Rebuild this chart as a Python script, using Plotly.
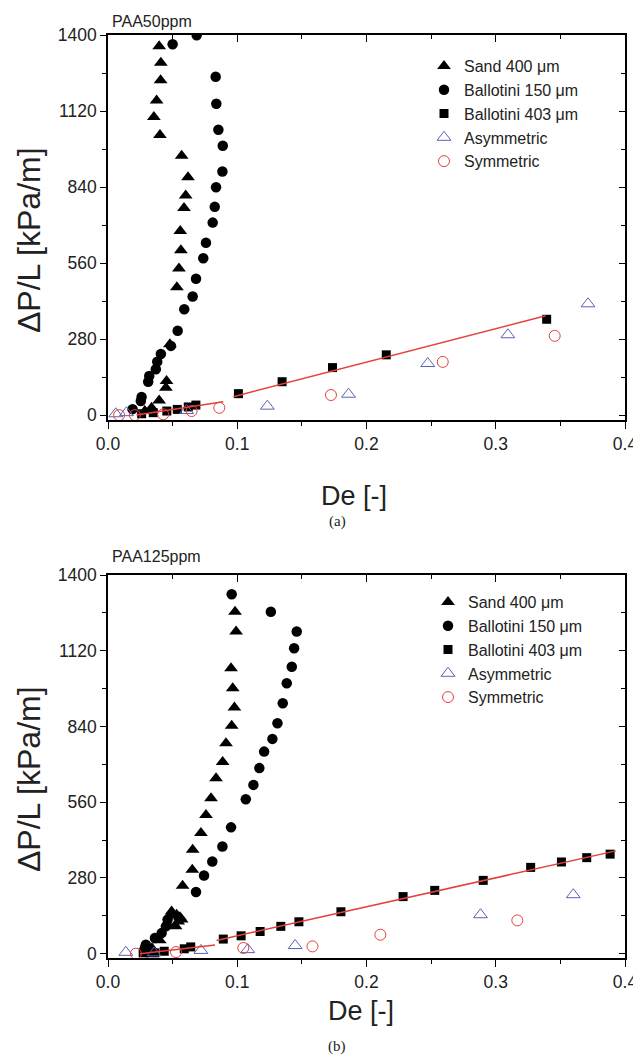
import plotly.graph_objects as go

# page body has an 8px margin: figure coordinates are offset from the window
OX, OY = 8, 8
W, H = 633, 1056
FONT = "Liberation Sans, Arial, sans-serif"

# ---------------- Panel (a): PAA 50 ppm ----------------
sand_a_x = [0.0396, 0.0409, 0.0407, 0.0376, 0.0355, 0.0402, 0.0570, 0.0619, 0.0601, 0.0588,
            0.0559, 0.0564, 0.0549, 0.0533, 0.0479, 0.0453, 0.0448, 0.0396, 0.0337, 0.0285]
sand_a_y = [1359, 1298, 1233, 1159, 1098, 1032, 955, 876, 809, 763,
            678, 607, 540, 471, 261, 126, 101, 54, 27, 15]

b150_a_x = [0.0686, 0.0500, 0.0833, 0.0838, 0.0854, 0.0888, 0.0885, 0.0836, 0.0826, 0.0810,
            0.0758, 0.0737, 0.0681, 0.0655, 0.0590, 0.0539, 0.0487, 0.0409, 0.0381, 0.0370,
            0.0319, 0.0311, 0.0260, 0.0254, 0.0190]
b150_a_y = [1399, 1366, 1246, 1147, 1051, 992, 897, 839, 767, 709,
            635, 578, 502, 437, 390, 311, 255, 225, 197, 169,
            144, 123, 67, 52, 22]

b403_a_x = [0.026, 0.035, 0.0455, 0.0536, 0.0621, 0.068, 0.1009, 0.1347, 0.1737, 0.2153, 0.3394]
b403_a_y = [5, 9, 15, 21, 30, 37, 79, 123, 175, 222, 353]

asym_a_x = [0.006, 0.0143, 0.0608, 0.1233, 0.1861, 0.2474, 0.3094, 0.3714]
asym_a_y = [5, 9, 17, 33, 77, 190, 296, 410]

sym_a_x = [0.0086, 0.0208, 0.0427, 0.0647, 0.0861, 0.1725, 0.259, 0.3456]
sym_a_y = [0, 0, 3, 15, 27, 74, 196, 292]

fit1_a_x = [0.022, 0.0892]
fit1_a_y = [0, 49]
fit2_a_x = [0.097, 0.3386]
fit2_a_y = [68, 366]

# ---------------- Panel (b): PAA 125 ppm ----------------
sand_b_x = [0.0983, 0.0991, 0.0952, 0.0965, 0.0978, 0.0957, 0.0913, 0.0887, 0.0836, 0.0797,
            0.0758, 0.0719, 0.0655, 0.0652, 0.0577, 0.0570, 0.0557, 0.0543, 0.0531, 0.0523,
            0.0492, 0.0480, 0.0460, 0.0400, 0.0340]
sand_b_y = [1264, 1191, 1055, 981, 910, 843, 778, 709, 649, 575,
            513, 446, 384, 310, 251, 126, 135, 119, 144, 101,
            156, 140, 110, 50, 20]

b150_b_x = [0.0957, 0.126, 0.146, 0.144, 0.1422, 0.1383, 0.1352, 0.1311, 0.1272, 0.1208,
            0.1171, 0.1125, 0.1066, 0.0952, 0.0885, 0.0807, 0.0743, 0.0681, 0.0461, 0.0448,
            0.0415, 0.0363, 0.0293, 0.0285, 0.0311]
b150_b_y = [1329, 1264, 1191, 1129, 1061, 1000, 926, 852, 794, 747,
            686, 624, 571, 467, 396, 341, 289, 228, 126, 101,
            76, 58, 33, 21, 5]

b403_b_x = [0.0272, 0.0363, 0.0435, 0.059, 0.064, 0.0892, 0.103, 0.1177, 0.1337, 0.1477,
            0.1802, 0.2283, 0.2528, 0.2903, 0.327, 0.3508, 0.3704, 0.3885]
b403_b_y = [3, 3, 9, 18, 25, 54, 66, 82, 101, 118,
            155, 211, 234, 271, 319, 339, 355, 368]

asym_b_x = [0.0138, 0.0357, 0.0719, 0.1081, 0.1448, 0.2882, 0.36]
asym_b_y = [5, 3, 12, 15, 30, 144, 218]

sym_b_x = [0.0216, 0.0526, 0.1047, 0.1582, 0.2107, 0.3167]
sym_b_y = [0, 6, 21, 27, 70, 123]

fit1_b_x = [0.0247, 0.0828]
fit1_b_y = [0, 32]
fit2_b_x = [0.084, 0.3929]
fit2_b_y = [49, 380]

names = ["Sand 400 \u03bcm", "Ballotini 150 \u03bcm", "Ballotini 403 \u03bcm", "Asymmetric", "Symmetric"]
y_ticks = [0, 280, 560, 840, 1120, 1400]
panel_titles = ["PAA50ppm", "PAA125ppm"]
captions = ["(a)", "(b)"]

BLUE = "#5a62b4"
RED = "#e5413b"


def px(rx):
    return (rx - OX) / W


def py(ry):
    return 1 - (ry - OY) / H


fig = go.Figure()


def add_panel(xa, ya, leg, sand, b150, b403, asym, sym, fits):
    styles = [
        dict(symbol="triangle-up", size=12, color="black"),
        dict(symbol="circle", size=10.5, color="black"),
        dict(symbol="square", size=9, color="black"),
        dict(symbol="triangle-up-open", size=12, color=BLUE, line=dict(color=BLUE, width=1)),
        dict(symbol="circle-open", size=11, color=RED, line=dict(color=RED, width=1)),
    ]
    for (x, y), nm, st in zip([sand, b150, b403, asym, sym], names, styles):
        fig.add_trace(go.Scatter(x=x, y=y, mode="markers", name=nm, marker=st,
                                 xaxis=xa, yaxis=ya, legend=leg))
    for fx, fy in fits:
        fig.add_trace(go.Scatter(x=fx, y=fy, mode="lines", line=dict(color=RED, width=1.5),
                                 xaxis=xa, yaxis=ya, showlegend=False, hoverinfo="skip"))


add_panel("x", "y", "legend",
          (sand_a_x, sand_a_y), (b150_a_x, b150_a_y), (b403_a_x, b403_a_y),
          (asym_a_x, asym_a_y), (sym_a_x, sym_a_y),
          [(fit1_a_x, fit1_a_y), (fit2_a_x, fit2_a_y)])
add_panel("x2", "y2", "legend2",
          (sand_b_x, sand_b_y), (b150_b_x, b150_b_y), (b403_b_x, b403_b_y),
          (asym_b_x, asym_b_y), (sym_b_x, sym_b_y),
          [(fit1_b_x, fit1_b_y), (fit2_b_x, fit2_b_y)])

xdom = [px(108), px(625)]
ydom_a = [py(420), py(35)]
ydom_b = [py(958), py(575)]

tickfont = dict(family=FONT, size=17.5, color="#222")
minor_y = [140, 420, 700, 980, 1260]


def xaxis(anchor, overlay=None):
    d = dict(domain=xdom, anchor=anchor, range=[0, 0.4], dtick=0.1, tick0=0, tickformat=".1f",
             showgrid=False, zeroline=False, showline=True, linecolor="black", linewidth=1.5,
             ticks="outside", ticklen=7, tickwidth=1.2, tickcolor="black", tickfont=tickfont,
             automargin=False, ticklabeloverflow="allow",
             minor=dict(dtick=0.05, ticks="outside", ticklen=4, tickwidth=1.2, tickcolor="black"))
    if overlay:
        d.update(overlaying=overlay, side="top", ticks="inside", showticklabels=False,
                 minor=dict(dtick=0.05, ticks="inside", ticklen=4, tickwidth=1.2, tickcolor="black"))
    return d


def yaxis(anchor, dom, rng, overlay=None):
    d = dict(domain=dom, anchor=anchor, range=rng, tickmode="array", tickvals=y_ticks,
             showgrid=False, zeroline=False, showline=True, linecolor="black", linewidth=1.5,
             ticks="outside", ticklen=6, tickwidth=1.2, tickcolor="black", tickfont=tickfont,
             automargin=False, ticklabeloverflow="allow",
             minor=dict(tickmode="array", tickvals=minor_y,
                        ticks="outside", ticklen=4, tickwidth=1.2, tickcolor="black"))
    if overlay:
        d.update(overlaying=overlay, side="right", ticks="inside", showticklabels=False,
                 minor=dict(tickmode="array", tickvals=minor_y,
                            ticks="inside", ticklen=4, tickwidth=1.2, tickcolor="black"))
    return d


legfont = dict(family=FONT, size=16, color="#222")

fig.update_layout(
    width=W, height=H, margin=dict(l=0, r=0, t=0, b=0, pad=0, autoexpand=False),
    paper_bgcolor="white", plot_bgcolor="white",
    font=dict(family=FONT, color="#222"),
    xaxis=xaxis("y"),
    yaxis=yaxis("x", ydom_a, [-18, 1400]),
    xaxis3=xaxis("y", overlay="x"),
    yaxis3=yaxis("x", ydom_a, [-18, 1400], overlay="y"),
    xaxis2=xaxis("y2"),
    yaxis2=yaxis("x2", ydom_b, [-16, 1400]),
    xaxis4=xaxis("y2", overlay="x2"),
    yaxis4=yaxis("x2", ydom_b, [-16, 1400], overlay="y2"),
    legend=dict(x=px(424), xanchor="left", y=py(49), yanchor="top", font=legfont,
                bgcolor="rgba(0,0,0,0)", itemwidth=30, tracegroupgap=0),
    legend2=dict(x=px(428), xanchor="left", y=py(585), yanchor="top", font=legfont,
                 bgcolor="rgba(0,0,0,0)", itemwidth=30, tracegroupgap=0),
    showlegend=True,
)

# dummy traces on overlay axes so they are drawn
for xa, ya in [("x3", "y"), ("x", "y3"), ("x4", "y2"), ("x2", "y4")]:
    fig.add_trace(go.Scatter(x=[None], y=[None], xaxis=xa, yaxis=ya, showlegend=False,
                             hoverinfo="skip"))

ann = []
ytitle = "\u0394P/L [kPa/m]"
for yc in [240, 779]:
    ann.append(dict(text=ytitle, x=px(29), y=py(yc), xref="paper", yref="paper",
                    showarrow=False, textangle=-90, font=dict(family=FONT, size=32, color="#222"),
                    xanchor="center", yanchor="middle"))
for xc, yc in [(354, 496), (361, 1011)]:
    ann.append(dict(text="De [-]", x=px(xc), y=py(yc), xref="paper", yref="paper",
                    showarrow=False, font=dict(family=FONT, size=27, color="#222"),
                    xanchor="center", yanchor="middle"))
for t, yc in zip(panel_titles, [21, 556]):
    ann.append(dict(text=t, x=px(110), y=py(yc), xref="paper", yref="paper",
                    showarrow=False, font=dict(family=FONT, size=16, color="#222"),
                    xanchor="left", yanchor="middle"))
for t, yc in zip(captions, [521, 1046]):
    ann.append(dict(text=t, x=px(337), y=py(yc), xref="paper", yref="paper",
                    showarrow=False, font=dict(family="Liberation Serif, Times New Roman, serif",
                                               size=15, color="#222"),
                    xanchor="center", yanchor="middle"))
fig.update_layout(annotations=ann)

fig.write_html("out.html")
